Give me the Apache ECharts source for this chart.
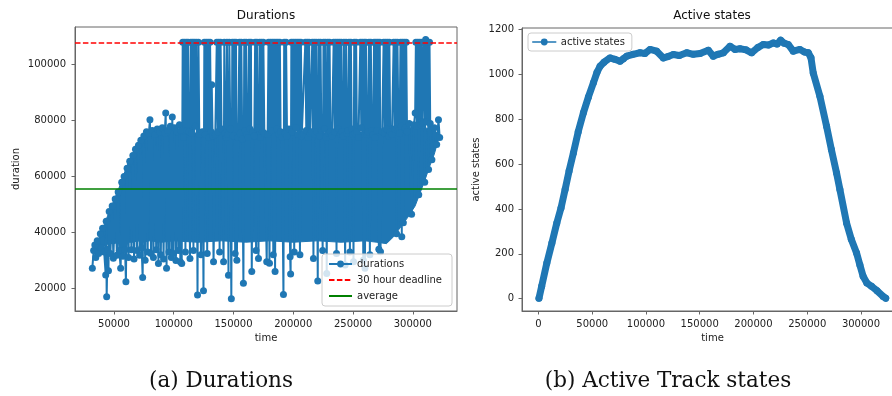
<!DOCTYPE html>
<html>
<head>
<meta charset="utf-8">
<script src="https://cdn.jsdelivr.net/npm/echarts@6/dist/echarts.min.js"></script>
<style>
  html, body { margin: 0; padding: 0; background: #fff; }
  #chart { width: 892px; height: 396px; }
</style>
</head>
<body>
<div id="chart"></div>
<script>
// (time, duration) samples for the left panel, in time order
const durations = [
  [31900, 27200], [33000, 33500], [34000, 35500], [34800, 31000], [36000, 37000],
  [37200, 32500], [38600, 39500], [39500, 34500], [40500, 41500], [41800, 33000],
  [43100, 24800], [43500, 44000], [43900, 17000], [44600, 34000], [45400, 26300],
  [46000, 47500], [47000, 32500], [48500, 49500], [49500, 30800], [51000, 52000],
  [52500, 31800], [53500, 54500], [54500, 33500], [55600, 27200], [56500, 58000],
  [57500, 31500], [58500, 60000], [59300, 33800], [60000, 22400], [61000, 63000],
  [62200, 31000], [63200, 65500], [64600, 33800], [65800, 67500], [66800, 30500],
  [68000, 69800], [69200, 33500], [70500, 71200], [71500, 31800], [72500, 73000],
  [73200, 34500], [74000, 23900], [75000, 74500], [76100, 30100], [77200, 76000],
  [78200, 33000], [79200, 75500], [80100, 80300], [81000, 32500], [82000, 76500],
  [83000, 31000], [84200, 75000], [85300, 33800], [86200, 77000], [87200, 28900],
  [88200, 76000], [89200, 32000], [90400, 77500], [91500, 30500], [92500, 75500],
  [93300, 82700], [94000, 27200], [95000, 76500], [96000, 33000], [97200, 78000],
  [98000, 31000], [98800, 81300], [99700, 32500], [100800, 77500], [101800, 30000],
  [102800, 76000], [103800, 33500], [104800, 78500], [105500, 29500], [106200, 76500],
  [106700, 28900],
  [107500, 108000], [108200, 74000], [109000, 108000], [109800, 33000], [110600, 108000],
  [111300, 76500], [112000, 108000], [112800, 76000], [113600, 30700], [114300, 108000],
  [115000, 75500], [115800, 108000], [116500, 33500], [117300, 108000], [118100, 78000],
  [118900, 108000], [119900, 17600], [120700, 108000], [121400, 75000], [122800, 32000],
  [124000, 76000], [124900, 19100], [125600, 108000], [126400, 75000], [127200, 108000],
  [128000, 32500], [128800, 108000], [129600, 74000], [130400, 108000], [131200, 76000],
  [131800, 92800], [132500, 74500], [133300, 29500], [134800, 75000],
  [136000, 108000], [136800, 76000], [137600, 108000], [138400, 33000], [139200, 108000],
  [140000, 77000], [141700, 29500], [142300, 108000], [143000, 75500], [144000, 74000],
  [144500, 108000], [145200, 75000], [145800, 24700], [146500, 108000], [147300, 77000],
  [148200, 16300], [149000, 108000], [149800, 74500], [150600, 108000], [151400, 32500],
  [152100, 108000], [152800, 30100], [153900, 74000], [154900, 108000], [155700, 75500],
  [156500, 108000], [157300, 73500], [158300, 21800], [159000, 108000], [159800, 76500],
  [160600, 108000], [161200, 75000], [162300, 74000], [163000, 108000], [163800, 77000],
  [164600, 108000], [165300, 26000], [166000, 76000], [167400, 74500], [168100, 108000],
  [168900, 33500], [169600, 108000], [170300, 77500], [170900, 30700], [171800, 108000],
  [172600, 74000], [173400, 108000], [174200, 76000], [175000, 108000], [175800, 75500],
  [177800, 29500], [178600, 75000], [179300, 108000], [180100, 29000], [180900, 108000],
  [181700, 76500], [182500, 108000], [183300, 32000], [184000, 108000], [184800, 26000],
  [185600, 108000], [186400, 77000], [187200, 108000], [188000, 75000], [188800, 108000],
  [189400, 76000], [190500, 74000], [191800, 17800], [192400, 108000], [193200, 75500],
  [194000, 108000], [194800, 74500], [196400, 77000], [197400, 31300], [197800, 25100],
  [198400, 108000], [199200, 76000], [200000, 108000], [200800, 33000], [201600, 108000],
  [202400, 77500], [203200, 108000], [204000, 75000], [204800, 108000], [205600, 32000],
  [206400, 108000], [207100, 74500], [208500, 75000],
  [210100, 108000], [210900, 76500], [211700, 108000], [212500, 74000], [213300, 108000],
  [214000, 75500], [215200, 76000], [215900, 108000], [216900, 30700], [217600, 108000],
  [218400, 75000], [219200, 108000], [219800, 76000], [220500, 22600], [221200, 108000],
  [222000, 74500], [222800, 108000], [223500, 76500], [224600, 33500], [225300, 108000],
  [226100, 77000], [226900, 108000], [227600, 74000], [228000, 25300], [228800, 108000],
  [229600, 75500], [230400, 108000], [231000, 76000], [232400, 74500], [233800, 108000],
  [234600, 76000], [235400, 108000], [236200, 32500], [237000, 108000], [237800, 77000],
  [238600, 108000], [239400, 75000], [240200, 108000], [240800, 76000], [241800, 74500],
  [242400, 108000], [243400, 28400], [244200, 108000], [244900, 75500], [245900, 76500],
  [246600, 108000], [247400, 33000], [248200, 108000], [248900, 77000], [250000, 75000],
  [250400, 29500], [251000, 108000], [251800, 75500], [252600, 108000], [253200, 76000],
  [254600, 74000], [256100, 108000], [256900, 77500], [257700, 108000], [258600, 30100],
  [259400, 108000], [260000, 27200], [260800, 108000], [261500, 75000], [262600, 76000],
  [263300, 108000], [264100, 32000], [264900, 108000], [265600, 76500], [266800, 75000],
  [267600, 108000], [268400, 74000], [269200, 108000], [270000, 76500], [270800, 108000],
  [271600, 34000], [272400, 108000], [273000, 33100], [274400, 76000], [275600, 108000],
  [276400, 75500], [277200, 108000], [278000, 77000], [278800, 108000], [279600, 74500],
  [280400, 108000], [281100, 76000], [282600, 75000], [284000, 108000], [284800, 77000],
  [285600, 108000], [286400, 39500], [287200, 108000], [288000, 76500], [289000, 75500],
  [289700, 108000], [290500, 78000], [290800, 38500], [291300, 108000], [292100, 43500],
  [292900, 108000], [293700, 77500], [294500, 108000], [295200, 76000], [297000, 79000],
  [299000, 46500], [301000, 78500], [302000, 82700], [302600, 108000], [303400, 78000],
  [304200, 108000], [305000, 53500], [305800, 108000], [306600, 78500], [307400, 108000],
  [307700, 79700], [308500, 79000], [309200, 108000], [310000, 58000], [310800, 109000],
  [311600, 79500], [312400, 108000], [313200, 62500], [314000, 108000], [314600, 79000],
  [316000, 66000], [318000, 77500], [320000, 71500], [321500, 80300], [322500, 74000]
];

// outline of the dense body of the durations cloud
const bandTime = [35000, 37000, 40000, 43000, 46000, 50000, 54000, 58000, 62000, 66000, 70000, 73000,
  80000, 90000, 100000, 120000, 140000, 160000, 180000, 200000, 220000, 240000, 260000, 270000,
  278000, 284000, 290000, 296000, 302000, 306000, 310000, 314000, 318000, 322000];
const bandLow = [34000, 34500, 35000, 35500, 36000, 36000, 36500, 36000, 36500, 36500, 37000, 36500,
  37000, 36500, 37000, 36500, 37000, 36500, 37000, 36500, 37000, 36500, 37000, 36500,
  36000, 38500, 42000, 45500, 49500, 54000, 58500, 63500, 68000, 74000];
const bandHigh = [35000, 37500, 41000, 44000, 47500, 51500, 55700, 60500, 65000, 68500, 71000, 72500,
  75500, 76500, 76500, 75500, 75500, 76000, 75500, 76000, 75500, 76000, 76000, 76500,
  76500, 77000, 77000, 77500, 78000, 78000, 77500, 77000, 76500, 75000];

const deadline = 108000;
const averageDuration = 55500;

// right panel: active track states over time
const activeTime = [500, 3000, 7800, 12500, 17100, 21000, 24800, 28500, 32500, 37000, 41800, 46500,
  51100, 54500, 57300, 61000, 66600, 71000, 75900, 79000, 82100, 88000, 94500, 99000, 103800,
  110000, 116200, 120500, 125500, 131000, 137900, 144000, 150300, 158000, 162600, 167000, 172000,
  178200, 183000, 187500, 193000, 198300, 204000, 209100, 214000, 218400, 222000, 225300, 228500,
  232300, 237000, 243200, 247500, 251000, 253500, 255600, 261800, 268000, 272500, 277300, 280400,
  286600, 291000, 295900, 299000, 302000, 305500, 309900, 315000, 320600, 323000];
const activeStates = [2, 55, 159, 248, 338, 405, 487, 570, 650, 745, 829, 900,
  963, 1010, 1037, 1055, 1074, 1068, 1059, 1070, 1082, 1090, 1097, 1094, 1112,
  1104, 1074, 1080, 1089, 1085, 1097, 1090, 1094, 1108, 1082, 1090, 1097,
  1126, 1112, 1115, 1110, 1097, 1120, 1134, 1132, 1141, 1136, 1153, 1140,
  1134, 1104, 1112, 1100, 1097, 1075, 1007, 903, 769, 665, 561, 487,
  338, 265, 204, 150, 100, 70, 55, 35, 10, 2];

const durTimeTicks = [50000, 100000, 150000, 200000, 250000, 300000];
const durValueTicks = [20000, 40000, 60000, 80000, 100000];
const activeTimeTicks = [0, 50000, 100000, 150000, 200000, 250000, 300000];
const activeValueTicks = [0, 200, 400, 600, 800, 1000, 1200];

const blue = '#1f77b4';
const axisColor = '#666';
const textColor = '#222';
const font = 'DejaVu Sans';
const dash = [5.5, 2.4];

const chart = echarts.init(document.getElementById('chart'));

function axis(gridIndex, min, max, ticks, name, nameGap, labelMargin) {
  return {
    gridIndex: gridIndex,
    type: 'value',
    min: min,
    max: max,
    name: name,
    nameLocation: 'middle',
    nameGap: nameGap,
    nameTextStyle: { fontFamily: font, fontSize: 10, color: textColor },
    splitLine: { show: false },
    axisLine: { show: true, onZero: false, lineStyle: { color: axisColor, width: 1 } },
    axisTick: { customValues: ticks, length: 3.5, lineStyle: { color: axisColor, width: 1 } },
    axisLabel: {
      customValues: ticks,
      margin: labelMargin,
      fontFamily: font,
      fontSize: 10,
      color: textColor,
      formatter: (v) => String(v)
    }
  };
}

const legendText = { fontFamily: font, fontSize: 10, color: textColor, lineHeight: 12 };

const option = {
  animation: false,
  backgroundColor: '#fff',
  grid: [
    { left: 75, top: 27, width: 382, height: 284, show: true, borderColor: axisColor, borderWidth: 1, outerBoundsMode: 'none' },
    { left: 522, top: 28, width: 381, height: 283, show: true, borderColor: axisColor, borderWidth: 1, outerBoundsMode: 'none' }
  ],
  xAxis: [
    axis(0, 17400, 337000, durTimeTicks, 'time', 21, 8),
    axis(1, -15300, 339100, activeTimeTicks, 'time', 21, 8)
  ],
  yAxis: [
    axis(0, 11900, 113500, durValueTicks, 'duration', 54, 9),
    axis(1, -55, 1207.5, activeValueTicks, 'active states', 41, 8)
  ],
  legend: [
    {
      left: 322, top: 254, orient: 'vertical',
      data: [
        'durations',
        { name: '30 hour deadline', itemStyle: { opacity: 0 } },
        { name: 'average', itemStyle: { opacity: 0 } }
      ],
      itemWidth: 23, itemHeight: 8.5, itemGap: 4,
      padding: [4, 10, 4, 6],
      backgroundColor: 'rgba(255,255,255,0.8)',
      borderColor: '#ccc', borderWidth: 1, borderRadius: 3,
      textStyle: legendText,
      selectedMode: false
    },
    {
      left: 528, top: 33, orient: 'vertical',
      data: ['active states'],
      itemWidth: 23, itemHeight: 8.5,
      padding: [3, 7, 3, 4],
      lineStyle: { width: 1.5 },
      backgroundColor: 'rgba(255,255,255,0.8)',
      borderColor: '#ccc', borderWidth: 1, borderRadius: 3,
      textStyle: legendText,
      selectedMode: false
    }
  ],
  graphic: [
    { type: 'text', x: 266, y: 16, style: { text: 'Durations', fontFamily: font, fontSize: 12, fill: '#111', align: 'center', verticalAlign: 'middle' } },
    { type: 'text', x: 712, y: 16, style: { text: 'Active states', fontFamily: font, fontSize: 12, fill: '#111', align: 'center', verticalAlign: 'middle' } },
    { type: 'text', x: 221, y: 381, style: { text: '(a) Durations', fontFamily: 'DejaVu Serif', fontSize: 21.5, fill: '#111', align: 'center', verticalAlign: 'middle' } },
    { type: 'text', x: 668, y: 381, style: { text: '(b) Active Track states', fontFamily: 'DejaVu Serif', fontSize: 21.5, fill: '#111', align: 'center', verticalAlign: 'middle' } }
  ],
  series: [
    {
      // dense body of the cloud, filled between its lower and upper edge
      type: 'custom',
      xAxisIndex: 0, yAxisIndex: 0,
      silent: true,
      data: [[bandTime[0], bandLow[0]]],
      renderItem: function (params, api) {
        const pts = [];
        for (let i = 0; i < bandTime.length; i++) pts.push(api.coord([bandTime[i], bandHigh[i]]));
        for (let i = bandTime.length - 1; i >= 0; i--) pts.push(api.coord([bandTime[i], bandLow[i]]));
        return { type: 'polygon', shape: { points: pts }, style: { fill: blue, stroke: blue, lineWidth: 1 } };
      }
    },
    {
      name: 'durations',
      type: 'line',
      xAxisIndex: 0, yAxisIndex: 0,
      data: durations,
      symbol: 'circle', symbolSize: 7,
      showSymbol: true, showAllSymbol: true,
      lineStyle: { color: blue, width: 2 },
      itemStyle: { color: blue }
    },
    {
      name: '30 hour deadline',
      type: 'line',
      xAxisIndex: 0, yAxisIndex: 0,
      data: [],
      symbol: 'none',
      lineStyle: { color: 'red', width: 1.5, type: dash },
      itemStyle: { color: 'red' },
      markLine: {
        silent: true, symbol: 'none', label: { show: false },
        lineStyle: { color: 'red', width: 1.5, type: dash },
        data: [{ yAxis: deadline }]
      }
    },
    {
      name: 'average',
      type: 'line',
      xAxisIndex: 0, yAxisIndex: 0,
      data: [],
      symbol: 'none',
      lineStyle: { color: '#008000', width: 1.5 },
      itemStyle: { color: '#008000' },
      markLine: {
        silent: true, symbol: 'none', label: { show: false },
        lineStyle: { color: '#008000', width: 1.5, type: 'solid' },
        data: [{ yAxis: averageDuration }]
      }
    },
    {
      name: 'active states',
      type: 'line',
      xAxisIndex: 1, yAxisIndex: 1,
      data: activeTime.map((t, i) => [t, activeStates[i]]),
      symbol: 'circle', symbolSize: 7,
      showSymbol: true, showAllSymbol: true,
      lineStyle: { color: blue, width: 7, cap: 'round', join: 'round' },
      itemStyle: { color: blue }
    }
  ]
};

chart.setOption(option);
window.addEventListener('resize', () => chart.resize());
</script>
</body>
</html>
